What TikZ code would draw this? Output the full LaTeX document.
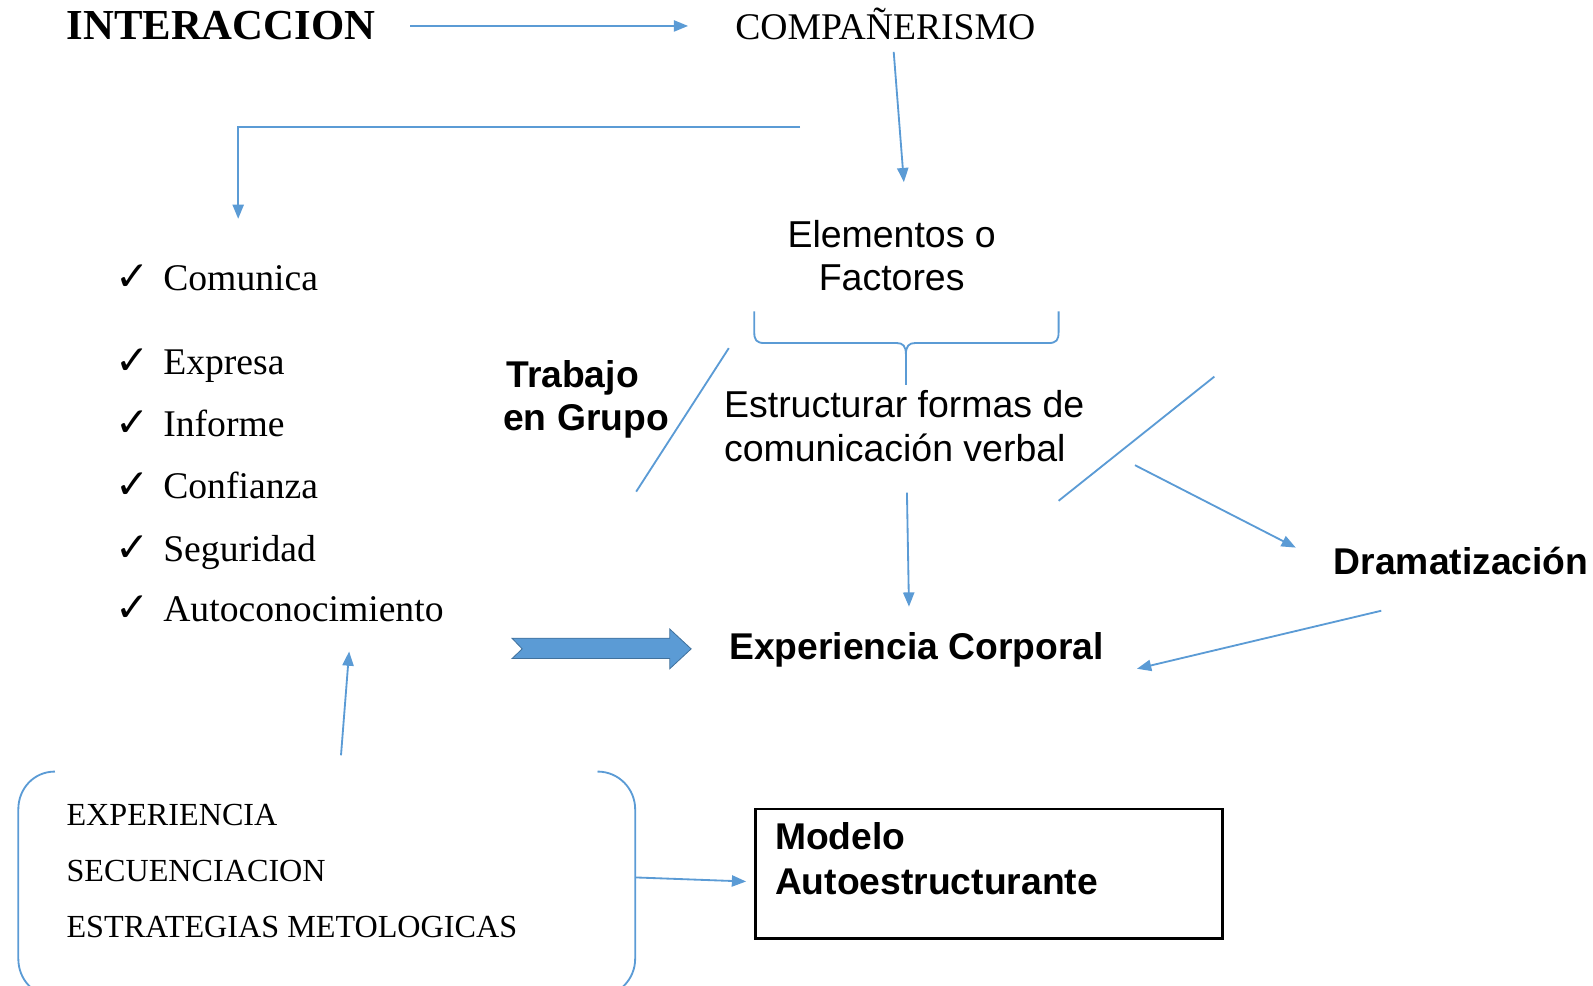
\documentclass[tikz,border=0pt]{standalone}
\usepackage{fontspec}
\setmainfont{Liberation Serif}
\newfontfamily\arialfont{Liberation Sans}
\newfontfamily\dejafont{DejaVu Sans}
\usetikzlibrary{arrows.meta}
\definecolor{lineblue}{HTML}{5B9BD5}
\definecolor{arrowedge}{HTML}{41719C}
\tikzset{
  conn/.style={draw=lineblue, line width=0.9pt},
  arr/.style={conn, -{Triangle[length=7pt,width=5.5pt]}},
  serif/.style={inner sep=0pt, anchor=base west, font=\fontsize{18.5}{22}\selectfont},
  serifsmall/.style={inner sep=0pt, anchor=base west, font=\fontsize{15.8}{19}\selectfont},
  sans/.style={inner sep=0pt, anchor=base west, font=\arialfont\fontsize{18.4}{22}\selectfont},
  sansbold/.style={inner sep=0pt, anchor=base west, font=\arialfont\bfseries\fontsize{18.3}{22}\selectfont},
  tick/.style={inner sep=0pt, anchor=base west, font=\dejafont\fontsize{20}{24}\selectfont},
  blockarrow/.style={fill=lineblue, draw=arrowedge, line width=0.4pt},
  modelbox/.style={draw=black, line width=1.2pt},
}
\begin{document}
\begin{tikzpicture}[x=0.5pt,y=0.5pt]
\useasboundingbox (0,0) rectangle (1565,-968);

% top row
\node[serif, font=\bfseries\fontsize{21}{25}\selectfont] (inter) at (65,-39) {INTERACCION};
\node[serif] (comp) at (722,-39) {COMPAÑERISMO};

% Elementos o Factores
\node[sans, anchor=base] (elem1) at (876,-243) {Elementos o};
\node[sans, anchor=base] (elem2) at (876,-285) {Factores};

% checklist
\node[tick] (t1) at (113,-285.5) {✓};
\node[serif] (c1) at (160,-285.5) {Comunica};
\node[tick] (t2) at (113,-368.4) {✓};
\node[serif] (c2) at (160,-368.4) {Expresa};
\node[tick] (t3) at (113,-429) {✓};
\node[serif] (c3) at (160,-429) {Informe};
\node[tick] (t4) at (113,-490) {✓};
\node[serif] (c4) at (160,-490) {Confianza};
\node[tick] (t5) at (113,-551.8) {✓};
\node[serif] (c5) at (160,-551.8) {Seguridad};
\node[tick] (t6) at (113,-610.7) {✓};
\node[serif] (c6) at (160,-610.7) {Autoconocimiento};

% Trabajo en Grupo
\node[sansbold] (tg1) at (497,-381) {Trabajo};
\node[sansbold] (tg2) at (494,-423) {en Grupo};

% Estructurar
\node[sans] (est1) at (711,-410) {Estructurar formas de};
\node[sans] (est2) at (711,-453) {comunicación verbal};

\node[sansbold] (drama) at (1310,-564) {Dramatización};
\node[sansbold] (expc) at (716,-648) {Experiencia Corporal};

% bottom box list
\node[serifsmall] (b1) at (65,-811.4) {EXPERIENCIA};
\node[serifsmall] (b2) at (65,-866.4) {SECUENCIACION};
\node[serifsmall] (b3) at (65,-921.4) {ESTRATEGIAS METOLOGICAS};

% Modelo box
\draw[modelbox] (742,-795) rectangle (1201,-922);
\node[sansbold] (mod1) at (761,-835) {Modelo};
\node[sansbold] (mod2) at (761,-879) {Autoestructurante};

% connector endpoints
\coordinate (a1s) at (403,-25.5);
\coordinate (a1e) at (676,-25.5);
\coordinate (a2s) at (878,-51);
\coordinate (a2e) at (888,-179);
\coordinate (a3s) at (786,-125);
\coordinate (a3m) at (234,-125);
\coordinate (a3e) at (234,-215);
\coordinate (s1a) at (716,-342);
\coordinate (s1b) at (625,-483);
\coordinate (s2a) at (1193,-370);
\coordinate (s2b) at (1040,-492);
\coordinate (a4s) at (1115,-457);
\coordinate (a4e) at (1273,-538);
\coordinate (a5s) at (891,-484);
\coordinate (a5e) at (893,-596);
\coordinate (a6s) at (1357,-600);
\coordinate (a6e) at (1117,-657);
\coordinate (a7s) at (335,-742);
\coordinate (a7e) at (343,-640);
\coordinate (a8s) at (624,-862);
\coordinate (a8e) at (733,-866);

\draw[arr] (a1s) -- (a1e);
\draw[arr] (a2s) -- (a2e);
\draw[arr] (a3s) -- (a3m) -- (a3e);
\draw[conn] (s1a) -- (s1b);
\draw[conn] (s2a) -- (s2b);
\draw[arr] (a4s) -- (a4e);
\draw[arr] (a5s) -- (a5e);
\draw[arr] (a6s) -- (a6e);
\draw[arr] (a7s) -- (a7e);
\draw[arr] (a8s) -- (a8e);

% brace
\draw[conn] (741,-306) -- (741,-326) .. controls (741,-334) and (743,-337) .. (751,-337)
  -- (881,-337) .. controls (887,-337) and (890,-340) .. (890,-348) -- (890,-378);
\draw[conn] (1040,-306) -- (1040,-326) .. controls (1040,-334) and (1038,-337) .. (1030,-337)
  -- (899,-337) .. controls (893,-337) and (890,-340) .. (890,-348);

% block arrow
\draw[blockarrow] (503,-627) -- (658,-627) -- (658,-618) -- (679,-637.5) -- (658,-657)
  -- (658,-647) -- (503,-647) -- (513,-637.5) -- cycle;

% bracket pair box
\draw[conn] (54,-758) .. controls (33,-758) and (18,-775) .. (18,-795) -- (18,-942)
  .. controls (18,-962) and (33,-979) .. (54,-979);
\draw[conn] (587,-758) .. controls (608,-758) and (624,-775) .. (624,-795) -- (624,-942)
  .. controls (624,-962) and (608,-979) .. (587,-979);
\end{tikzpicture}
\end{document}
